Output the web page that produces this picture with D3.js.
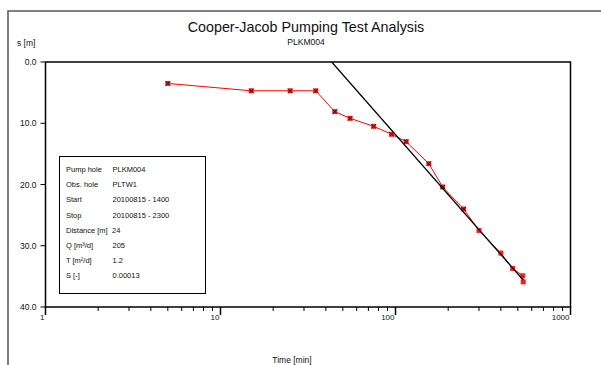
<!DOCTYPE html>
<html>
<head>
<meta charset="utf-8">
<script src="https://cdnjs.cloudflare.com/ajax/libs/d3/7.8.5/d3.min.js"></script>
<style>
  body { margin: 0; background: #fff; }
  svg text { font-family: "Liberation Sans", Arial, sans-serif; fill: #111; }
</style>
</head>
<body>
<div id="chart"></div>
<script>
// --> DATA
var timeMin = [5, 15, 25, 35, 45, 55, 75, 95, 115, 155, 186, 245, 300, 400, 467, 533, 537];
var drawdown = [3.5, 4.7, 4.7, 4.7, 8.1, 9.2, 10.5, 11.8, 13.0, 16.6, 20.4, 24.0, 27.5, 31.2, 33.7, 34.9, 35.9];
var fitTime = [43.2, 537];
var fitDrawdown = [0, 35.6];
var yTicks = [0, 10, 20, 30, 40];
var xMajor = [1, 10, 100, 1000];
var infoLabels = ["Pump hole", "Obs. hole", "Start", "Stop", "Distance [m]", "Q [m\u00b3/d]", "T [m\u00b2/d]", "S [-]"];
var infoValues = ["PLKM004", "PLTW1", "20100815 - 1400", "20100815 - 2300", "24", "205", "1.2", "0.00013"];

// --> SVG
var width = 601, height = 365;
var margin = { top: 62, right: 30.5, bottom: 58, left: 45.5 };

var svg = d3.select("#chart").append("svg")
    .attr("width", width)
    .attr("height", height);

// outer frame (top + left edges only visible)
svg.append("path")
    .attr("d", "M8,366 L8,11 L602,11")
    .attr("fill", "none")
    .attr("stroke", "#555")
    .attr("stroke-width", 1.5);

var x = d3.scaleLog()
    .domain([1, 1000])
    .range([margin.left, width - margin.right]);

var y = d3.scaleLinear()
    .domain([0, 40])
    .range([margin.top, height - margin.bottom]);

// titles
svg.append("text")
    .attr("x", 306).attr("y", 32)
    .attr("text-anchor", "middle")
    .style("font-size", "14.3px")
    .text("Cooper-Jacob Pumping Test Analysis");

svg.append("text")
    .attr("x", 306).attr("y", 45)
    .attr("text-anchor", "middle")
    .style("font-size", "8.5px")
    .text("PLKM004");

svg.append("text")
    .attr("x", 17).attr("y", 46)
    .style("font-size", "8.5px")
    .text("s [m]");

svg.append("text")
    .attr("x", 292).attr("y", 363)
    .attr("text-anchor", "middle")
    .style("font-size", "8.5px")
    .text("Time [min]");

// y axis ticks
var yAxis = svg.append("g").attr("class", "y-axis");
yAxis.selectAll("line")
    .data(yTicks)
    .enter().append("line")
    .attr("x1", margin.left - 5).attr("x2", margin.left)
    .attr("y1", function(d) { return y(d); })
    .attr("y2", function(d) { return y(d); })
    .attr("stroke", "#000");
yAxis.selectAll("text")
    .data(yTicks)
    .enter().append("text")
    .attr("x", margin.left - 9)
    .attr("y", function(d) { return y(d) + 3; })
    .attr("text-anchor", "end")
    .style("font-size", "8.5px")
    .text(function(d) { return d.toFixed(1); });

// x axis ticks (log)
var xAll = x.ticks();
var xAxis = svg.append("g").attr("class", "x-axis");
xAxis.selectAll("line")
    .data(xAll)
    .enter().append("line")
    .attr("x1", function(d) { return x(d); })
    .attr("x2", function(d) { return x(d); })
    .attr("y1", y(40))
    .attr("y2", function(d) { return y(40) + (xMajor.indexOf(d) >= 0 ? 8 : 4); })
    .attr("stroke", "#000")
    .attr("stroke-width", function(d) { return xMajor.indexOf(d) >= 0 ? 1.5 : 1; });
xAxis.selectAll("text")
    .data(xMajor)
    .enter().append("text")
    .attr("x", function(d) { return x(d) - 1; })
    .attr("y", y(40) + 13)
    .attr("text-anchor", "end")
    .style("font-size", "8px")
    .text(function(d) { return d; });

// clip for plot area
svg.append("clipPath").attr("id", "plotclip")
    .append("rect")
    .attr("x", margin.left).attr("y", margin.top)
    .attr("width", x(1000) - margin.left)
    .attr("height", y(40) - margin.top);

// info box
var box = svg.append("g").attr("class", "info");
box.append("rect")
    .attr("x", 59.5).attr("y", 156.5)
    .attr("width", 146).attr("height", 137)
    .attr("fill", "#fff")
    .attr("stroke", "#000");
box.selectAll("text.lab")
    .data(infoLabels)
    .enter().append("text")
    .attr("class", "lab")
    .attr("x", 66)
    .attr("y", function(d, i) { return 172 + i * 15.2; })
    .style("font-size", "7.5px")
    .text(function(d) { return d; });
box.selectAll("text.val")
    .data(infoValues)
    .enter().append("text")
    .attr("class", "val")
    .attr("x", function(d, i) { return i == 4 ? 112 : 112.5; })
    .attr("y", function(d, i) { return 172 + i * 15.2; })
    .style("font-size", "7.5px")
    .text(function(d) { return d; });

// measured data
var pts = timeMin.map(function(t, i) { return { t: t, s: drawdown[i], i: i }; });

var line = d3.line()
    .x(function(d) { return x(d.t); })
    .y(function(d) { return y(d.s); });

var plot = svg.append("g").attr("clip-path", "url(#plotclip)");

plot.append("path")
    .datum(pts)
    .attr("d", line)
    .attr("fill", "none")
    .attr("stroke", "#ff0000")
    .attr("stroke-width", 1);

plot.selectAll("rect.pt")
    .data(pts)
    .enter().append("rect")
    .attr("class", "pt")
    .attr("x", function(d) { return x(d.t) - 2.5; })
    .attr("y", function(d) { return y(d.s) - 2.5; })
    .attr("width", 5).attr("height", 5)
    .attr("fill", "#ff1a1a");

plot.selectAll("path.cross")
    .data(pts.filter(function(d) { return d.i < 12; }))
    .enter().append("path")
    .attr("class", "cross")
    .attr("d", function(d) {
        var cx = x(d.t), cy = y(d.s);
        return "M" + (cx - 2) + "," + (cy - 2) + "L" + (cx + 2) + "," + (cy + 2) +
               "M" + (cx + 2) + "," + (cy - 2) + "L" + (cx - 2) + "," + (cy + 2);
    })
    .attr("stroke", "#400")
    .attr("stroke-width", 1);

// fitted straight line
var fit = fitTime.map(function(t, i) { return { t: t, s: fitDrawdown[i] }; });
plot.append("path")
    .datum(fit)
    .attr("d", line)
    .attr("fill", "none")
    .attr("stroke", "#000")
    .attr("stroke-width", 1.3);

// plot frame
svg.append("rect")
    .attr("x", margin.left).attr("y", margin.top)
    .attr("width", x(1000) - margin.left)
    .attr("height", y(40) - margin.top)
    .attr("fill", "none")
    .attr("stroke", "#000")
    .attr("stroke-width", 1.5);
</script>
</body>
</html>
